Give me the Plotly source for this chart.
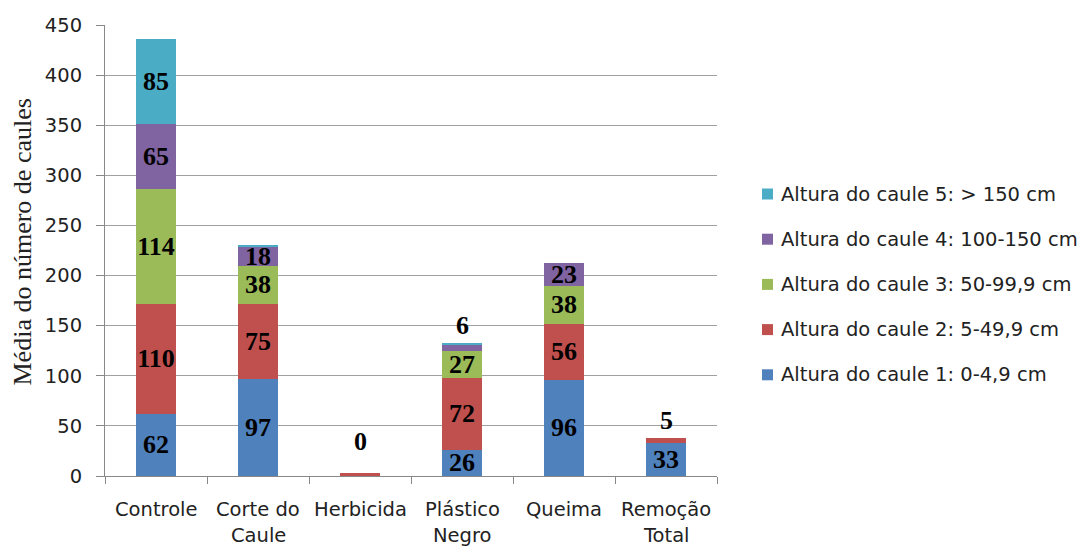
import plotly.graph_objects as go

# Treatments (x categories), two-line tick labels
categories = ["Controle", "Corte do Caule", "Herbicida", "Plástico Negro", "Queima", "Remoção Total"]
cat_line1 = ["Controle", "Corte do", "Herbicida", "Plástico", "Queima", "Remoção"]
cat_line2 = ["", "Caule", "", "Negro", "", "Total"]

# Mean number of stems per height class
altura_1 = [62, 97, 0, 26, 96, 33]
altura_2 = [110, 75, 3, 72, 56, 5]
altura_3 = [114, 38, 0, 27, 38, 0]
altura_4 = [65, 18, 0, 6, 23, 0]
altura_5 = [85, 2, 0, 1, 0, 0]

series_names = [
    "Altura do caule 1: 0-4,9 cm",
    "Altura do caule 2: 5-49,9 cm",
    "Altura do caule 3: 50-99,9 cm",
    "Altura do caule 4: 100-150 cm",
    "Altura do caule 5: > 150 cm",
]
series_values = [altura_1, altura_2, altura_3, altura_4, altura_5]
colors = ["#4F81BD", "#C0504D", "#9BBB59", "#8064A2", "#4BACC6"]

# Labels shown inside each segment (None = no label inside)
inside_labels = [
    [62, 97, None, 26, 96, 33],
    [110, 75, None, 72, 56, None],
    [114, 38, None, 27, 38, None],
    [65, 18, None, None, 23, None],
    [85, None, None, None, None, None],
]
# Labels placed above the stack: (series index, category index, pixel offset)
above_labels = [(0, 2, 31), (3, 3, 18), (1, 5, 17)]

label_font = dict(family="Liberation Serif", size=26, color="#000000")
axis_font = dict(family="DejaVu Sans", size=19.5, color="#222222")

# Plot-area geometry in pixels (used to place the legend block)
W, H = 1088, 548
M_L, M_R, M_T, M_B = 105, 371, 25, 72
PW, PH = W - M_L - M_R, H - M_T - M_B


def px_x(p):
    return (p - M_L) / PW


def px_y(p):
    return (H - M_B - p) / PH


fig = go.Figure()
for name, vals, labs, col in zip(series_names, series_values, inside_labels, colors):
    fig.add_trace(go.Bar(
        x=categories, y=vals, name=name,
        marker=dict(color=col, line=dict(width=0)),
        text=["<b>%d</b>" % v if v is not None else "" for v in labs],
        textposition="inside", insidetextanchor="middle",
        constraintext="none", textangle=0,
        textfont=label_font,
        hoverinfo="skip",
    ))

totals = [sum(s[k] for s in series_values) for k in range(len(categories))]
annotations = []
shapes = []
for si, ci, off in above_labels:
    annotations.append(dict(
        x=categories[ci], y=totals[ci], xref="x", yref="y",
        text="<b>%d</b>" % series_values[si][ci], showarrow=False,
        yshift=off, yanchor="middle", font=label_font,
    ))

# Category labels beneath the axis
for cat, l1, l2 in zip(categories, cat_line1, cat_line2):
    annotations.append(dict(x=cat, y=0, xref="x", yref="paper", text=l1,
                            showarrow=False, yanchor="middle", yshift=-33, font=axis_font))
    if l2:
        annotations.append(dict(x=cat, y=0, xref="x", yref="paper", text=l2,
                                showarrow=False, yanchor="middle", yshift=-59, font=axis_font))

# Y axis title
annotations.append(dict(
    x=0, y=0.5, xref="paper", yref="paper", text="Média do número de caules",
    textangle=-90, showarrow=False, xanchor="center", yanchor="middle",
    xshift=-83, yshift=8,
    font=dict(family="Liberation Serif", size=26, color="#222222"),
))

# Legend: highest class on top, colour square followed by its name
leg_top, leg_step = 194, 45.2
for k, idx in enumerate(reversed(range(len(series_names)))):
    cy = leg_top + k * leg_step
    shapes.append(dict(
        type="rect", xref="paper", yref="paper",
        x0=px_x(762), x1=px_x(773), y0=px_y(cy + 5.5), y1=px_y(cy - 5.5),
        fillcolor=colors[idx], line=dict(width=0),
    ))
    annotations.append(dict(
        x=px_x(779), y=px_y(cy), xref="paper", yref="paper",
        text=series_names[idx], showarrow=False,
        xanchor="left", yanchor="middle", font=axis_font,
    ))

fig.update_layout(
    barmode="stack",
    bargap=0.6,
    width=W, height=H,
    margin=dict(l=M_L, r=M_R, t=M_T, b=M_B),
    paper_bgcolor="white", plot_bgcolor="white",
    showlegend=False,
    annotations=annotations,
    shapes=shapes,
    xaxis=dict(
        type="category", showticklabels=False, tickson="boundaries",
        ticks="outside", ticklen=7, tickcolor="#888888",
        showline=True, linecolor="#888888", linewidth=1,
        showgrid=False, range=[-0.5, 5.5],
    ),
    yaxis=dict(
        range=[0, 450], tickvals=list(range(0, 451, 50)),
        ticks="outside", ticklen=8, tickcolor="#888888",
        showline=True, linecolor="#888888", linewidth=1,
        showgrid=True, gridcolor="#a0a0a0", gridwidth=1,
        tickfont=axis_font, ticklabelstandoff=10, zeroline=False,
    ),
)

fig.write_html("out.html")
